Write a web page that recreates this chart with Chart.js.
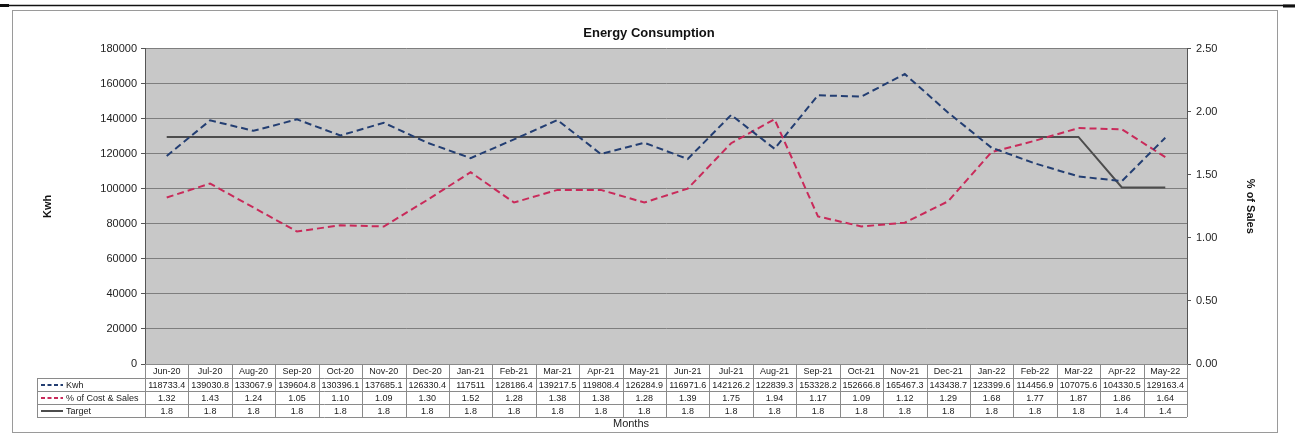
<!DOCTYPE html>
<html>
<head>
<meta charset="utf-8">
<script src="https://cdn.jsdelivr.net/npm/chart.js@4/dist/chart.umd.min.js"></script>
<style>
  html, body { margin: 0; padding: 0; background: #fff; }
  #wrap { position: relative; width: 1295px; height: 434px; }
</style>
</head>
<body>
<div id="wrap"><canvas id="energy" width="1295" height="434"></canvas></div>
<script>
// --- data ---
const months = ['Jun-20','Jul-20','Aug-20','Sep-20','Oct-20','Nov-20','Dec-20','Jan-21','Feb-21','Mar-21','Apr-21','May-21',
                'Jun-21','Jul-21','Aug-21','Sep-21','Oct-21','Nov-21','Dec-21','Jan-22','Feb-22','Mar-22','Apr-22','May-22'];
const kwh = [118733.4,139030.8,133067.9,139604.8,130396.1,137685.1,126330.4,117511,128186.4,139217.5,119808.4,126284.9,
             116971.6,142126.2,122839.3,153328.2,152666.8,165467.3,143438.7,123399.6,114456.9,107075.6,104330.5,129163.4];
const pctSales = [1.32,1.43,1.24,1.05,1.10,1.09,1.30,1.52,1.28,1.38,1.38,1.28,
                  1.39,1.75,1.94,1.17,1.09,1.12,1.29,1.68,1.77,1.87,1.86,1.64];
const target = [1.8,1.8,1.8,1.8,1.8,1.8,1.8,1.8,1.8,1.8,1.8,1.8,
                1.8,1.8,1.8,1.8,1.8,1.8,1.8,1.8,1.8,1.8,1.4,1.4];

// --- style ---
const FONT = '"Liberation Sans", Arial, sans-serif';
const BLUE = '#233e72';
const RED  = '#c92a5a';
const GREY_LINE = '#4d4d4d';
const PLOT_BG = '#c8c8c8';
const GRID = '#7e7e7e';
const TABLE_LINE = '#8a8a8a';

// фон области построения + рамка страницы
const frame = {
  id: 'frame',
  beforeDraw(chart){
    const { ctx, chartArea: a } = chart;
    ctx.save();
    ctx.fillStyle = PLOT_BG;
    ctx.fillRect(a.left, a.top, a.right - a.left, a.bottom - a.top);
    // outer border of the sheet
    ctx.strokeStyle = '#9a9a9a';
    ctx.lineWidth = 1;
    ctx.strokeRect(12.5, 10.5, 1265, 422);
    // black line at the very top
    ctx.strokeStyle = '#111';
    ctx.lineWidth = 1.5;
    ctx.beginPath(); ctx.moveTo(0, 5.5); ctx.lineTo(1295, 5.5); ctx.stroke();
    ctx.lineWidth = 3;
    ctx.beginPath(); ctx.moveTo(0, 5.5); ctx.lineTo(9, 5.5); ctx.moveTo(1283, 6); ctx.lineTo(1295, 6); ctx.stroke();
    ctx.restore();
  }
};

// таблица данных под графиком
const dataTable = {
  id: 'dataTable',
  afterDraw(chart){
    const { ctx, chartArea: a, scales } = chart;
    const x = scales.x;
    const n = months.length;
    const colW = (a.right - a.left) / n;
    const top = a.bottom;
    const rows = [top, top + 14, top + 27, top + 40, top + 53];
    const legL = 37;

    ctx.save();
    ctx.strokeStyle = TABLE_LINE;
    ctx.lineWidth = 1;
    ctx.beginPath();
    // horizontal lines
    ctx.moveTo(a.left, rows[0] + 0.5); ctx.lineTo(a.right, rows[0] + 0.5);
    for (let i = 1; i < rows.length; i++){
      ctx.moveTo(legL, rows[i] + 0.5); ctx.lineTo(a.right, rows[i] + 0.5);
    }
    // vertical lines
    for (let i = 0; i <= n; i++){
      const xx = Math.round(a.left + i * colW) + 0.5;
      ctx.moveTo(xx, rows[0]); ctx.lineTo(xx, rows[4]);
    }
    ctx.moveTo(legL + 0.5, rows[1]); ctx.lineTo(legL + 0.5, rows[4]);
    ctx.stroke();

    ctx.fillStyle = '#222';
    ctx.textAlign = 'center';
    ctx.textBaseline = 'middle';
    ctx.font = '9px ' + FONT;
    const lines = [
      months,
      kwh.map(v => String(v)),
      pctSales.map(v => v.toFixed(2)),
      target.map(v => String(v))
    ];
    lines.forEach((vals, r) => {
      const cy = (rows[r] + rows[r + 1]) / 2 + 1;
      vals.forEach((s, i) => ctx.fillText(s, x.getPixelForValue(i), cy));
    });

    // legend keys
    const keys = [
      { label: 'Kwh', color: BLUE, dash: [4, 2.5] },
      { label: '% of Cost & Sales', color: RED, dash: [4, 2.5] },
      { label: 'Target', color: GREY_LINE, dash: [] }
    ];
    keys.forEach((k, i) => {
      const cy = (rows[i + 1] + rows[i + 2]) / 2 + 0.5;
      ctx.strokeStyle = k.color;
      ctx.lineWidth = 2;
      ctx.setLineDash(k.dash);
      ctx.beginPath(); ctx.moveTo(41, cy); ctx.lineTo(63, cy); ctx.stroke();
      ctx.setLineDash([]);
      ctx.textAlign = 'left';
      ctx.fillStyle = '#222';
      ctx.fillText(k.label, 66, cy + 0.5);
    });

    // axis caption under the table
    ctx.font = '11px ' + FONT;
    ctx.textAlign = 'center';
    ctx.fillText('Months', 631, 424);
    ctx.restore();
  }
};

const tickFont = { family: FONT, size: 11 };

new Chart(document.getElementById('energy'), {
  type: 'line',
  data: {
    labels: months,
    datasets: [
      { label: 'Kwh', data: kwh, yAxisID: 'y', borderColor: BLUE, borderWidth: 2,
        borderDash: [7, 4], pointRadius: 0, tension: 0 },
      { label: '% of Cost & Sales', data: pctSales, yAxisID: 'y1', borderColor: RED, borderWidth: 2,
        borderDash: [7, 4], pointRadius: 0, tension: 0 },
      { label: 'Target', data: target, yAxisID: 'y1', borderColor: GREY_LINE, borderWidth: 2,
        pointRadius: 0, tension: 0 }
    ]
  },
  options: {
    responsive: false,
    animation: false,
    layout: { padding: { left: 41, right: 38, top: 0, bottom: 4 } },
    plugins: {
      legend: { display: false },
      tooltip: { enabled: false },
      title: {
        display: true,
        text: 'Energy Consumption',
        color: '#111',
        font: { family: FONT, size: 13, weight: 'bold' },
        padding: { top: 26, bottom: 7 }
      }
    },
    scales: {
      x: {
        offset: true,
        grid: { display: false, drawTicks: false },
        border: { display: false },
        ticks: { display: false },
        afterFit(s){ s.height = 66; }
      },
      y: {
        position: 'left',
        min: 0, max: 180000,
        ticks: { stepSize: 20000, color: '#222', font: tickFont, padding: 4,
                 callback: v => String(v) },
        grid: { color: GRID, tickLength: 4, tickColor: '#555' },
        border: { color: '#555' },
        title: { display: true, text: 'Kwh', color: '#111', font: { family: FONT, size: 11, weight: 'bold' }, padding: 0 },
        afterFit(s){ s.width = 104; }
      },
      y1: {
        position: 'right',
        min: 0, max: 2.5,
        ticks: { stepSize: 0.5, color: '#222', font: tickFont, padding: 5,
                 callback: v => Number(v).toFixed(2) },
        grid: { drawOnChartArea: false, tickLength: 4, tickColor: '#555' },
        border: { color: '#555' },
        title: { display: true, text: '% of Sales', color: '#111', font: { family: FONT, size: 11, weight: 'bold' }, padding: 0 },
        afterFit(s){ s.width = 70; }
      }
    }
  },
  plugins: [frame, dataTable]
});
</script>
</body>
</html>
